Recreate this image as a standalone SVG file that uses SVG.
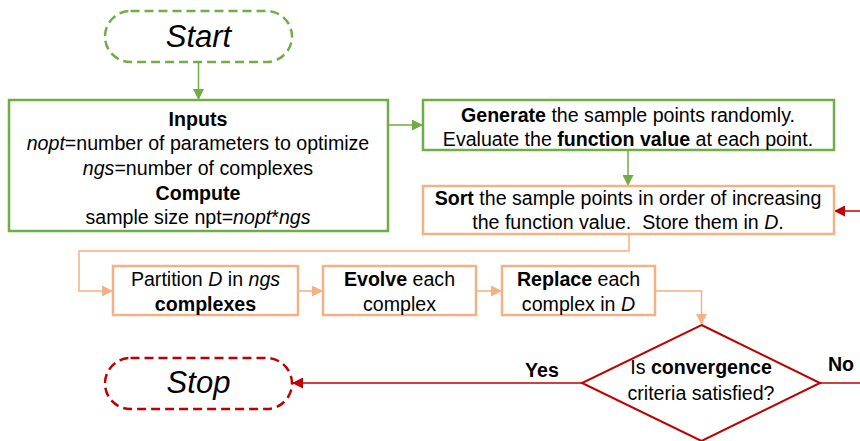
<svg xmlns="http://www.w3.org/2000/svg" width="860" height="441" viewBox="0 0 860 441">
<defs>
<style>
text{font-family:"Liberation Sans",Arial,sans-serif;font-size:19.6px;fill:#000;text-anchor:middle}
.b{font-weight:bold}
.i{font-style:italic}
.term{font-size:31px;font-style:italic}
.g{fill:#fff;stroke:#70AD47;stroke-width:2.5}
.o{fill:#fff;stroke:#F4B183;stroke-width:2.5}
.r{fill:#fff;stroke:#C00000;stroke-width:2}
.gd{fill:#fff;stroke:#70AD47;stroke-width:2.5;stroke-dasharray:9 5}
.rd{fill:#fff;stroke:#C00000;stroke-width:2.5;stroke-dasharray:9 5}
.cg{fill:none;stroke:#70AD47;stroke-width:1.5}
.co{fill:none;stroke:#F4B183;stroke-width:1.5}
.cr{fill:none;stroke:#C00000;stroke-width:1.5}
</style>
<marker id="ag" markerWidth="11" markerHeight="11" refX="10" refY="5.5" orient="auto" markerUnits="userSpaceOnUse"><path d="M0,0 L11,5.5 L0,11 Z" fill="#70AD47"/></marker>
<marker id="ao" markerWidth="11" markerHeight="11" refX="10" refY="5.5" orient="auto" markerUnits="userSpaceOnUse"><path d="M0,0 L11,5.5 L0,11 Z" fill="#F4B183"/></marker>
<marker id="ar" markerWidth="11" markerHeight="11" refX="10" refY="5.5" orient="auto" markerUnits="userSpaceOnUse"><path d="M0,0 L11,5.5 L0,11 Z" fill="#C00000"/></marker>
</defs>
<rect width="860" height="441" fill="#fff"/>
<g id="connectors">
<path class="cg" d="M198.5 63 V99" marker-end="url(#ag)"/>
<path class="cg" d="M389 125 H422" marker-end="url(#ag)"/>
<path class="cg" d="M628 151 V185" marker-end="url(#ag)"/>
<path class="co" d="M629 235 V251 H79 V291 H112" marker-end="url(#ao)"/>
<path class="co" d="M299 291 H322" marker-end="url(#ao)"/>
<path class="co" d="M477 291 H501" marker-end="url(#ao)"/>
<path class="co" d="M656 291 H701.5 V324" marker-end="url(#ao)"/>
<path class="cr" d="M582 383 H293" marker-end="url(#ar)"/>
<path class="cr" d="M820 383 H880 V211 H835" marker-end="url(#ar)"/>
</g>
<g id="start">
<rect class="gd" x="105" y="11" width="187" height="51" rx="25.5"/>
<text class="term" x="198.5" y="47">Start</text>
</g>
<g id="inputs">
<rect class="g" x="9" y="100" width="379" height="131"/>
<text class="b" x="198" y="126">Inputs</text>
<text x="198" y="150"><tspan class="i">nopt</tspan>=number of parameters to optimize</text>
<text x="198" y="175"><tspan class="i">ngs</tspan>=number of complexes</text>
<text class="b" x="198" y="200">Compute</text>
<text x="198" y="224">sample size npt=<tspan class="i">nopt</tspan>*<tspan class="i">ngs</tspan></text>
</g>
<g id="generate">
<rect class="g" x="423" y="100" width="411" height="50"/>
<text x="628" y="122"><tspan class="b">Generate</tspan> the sample points randomly.</text>
<text x="628" y="146">Evaluate the <tspan class="b">function value</tspan> at each point.</text>
</g>
<g id="sort">
<rect class="o" x="423" y="186" width="411" height="48"/>
<text x="628" y="205"><tspan class="b">Sort</tspan> the sample points in order of increasing</text>
<text x="628" y="229">the function value.&#160; Store them in <tspan class="i">D</tspan>.</text>
</g>
<g id="partition">
<rect class="o" x="113" y="266" width="185" height="49"/>
<text x="205.5" y="286">Partition <tspan class="i">D</tspan> in <tspan class="i">ngs</tspan></text>
<text class="b" x="205.5" y="311">complexes</text>
</g>
<g id="evolve">
<rect class="o" x="323" y="266" width="153" height="49"/>
<text x="399.5" y="286"><tspan class="b">Evolve</tspan> each</text>
<text x="399.5" y="311">complex</text>
</g>
<g id="replace">
<rect class="o" x="502" y="266" width="153" height="49"/>
<text x="578.5" y="286"><tspan class="b">Replace</tspan> each</text>
<text x="578.5" y="311">complex in <tspan class="i">D</tspan></text>
</g>
<g id="decision">
<path class="r" d="M701.5 325 L820 383 L701.5 441 L582 383 Z"/>
<text x="701" y="374">Is <tspan class="b">convergence</tspan></text>
<text x="701" y="400">criteria satisfied?</text>
</g>
<g id="stop">
<rect class="rd" x="105" y="358" width="187" height="51" rx="25.5"/>
<text class="term" x="198.5" y="393">Stop</text>
</g>
<g id="labels">
<text class="b" x="542" y="377">Yes</text>
<text class="b" x="841" y="371">No</text>
</g>
</svg>
